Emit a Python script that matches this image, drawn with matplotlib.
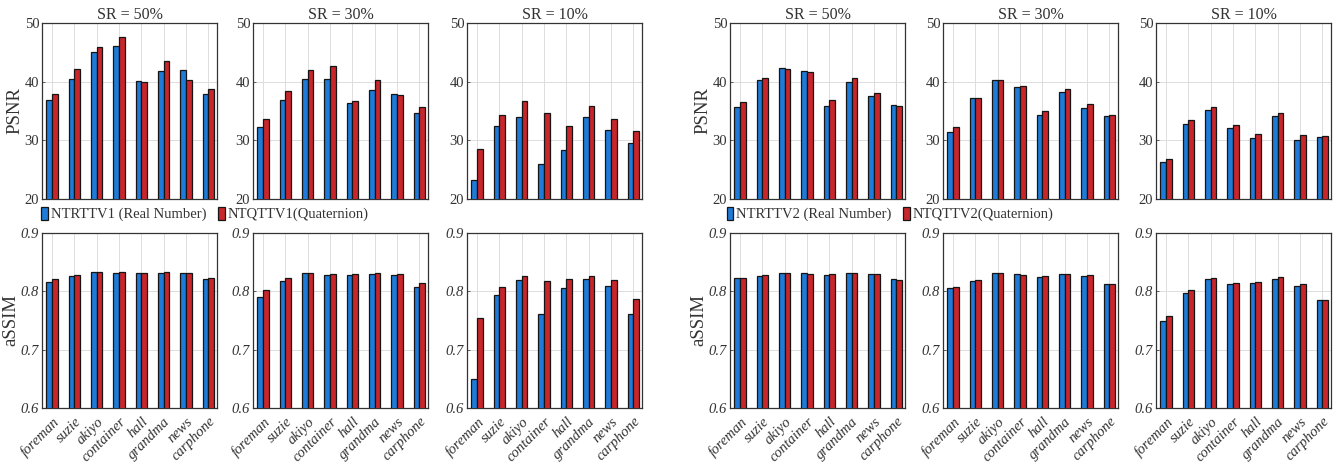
import numpy as np
import matplotlib.pyplot as plt
from matplotlib.patches import Patch

plt.rcParams['font.family'] = ['Liberation Serif', 'DejaVu Serif']

videos = ['foreman', 'suzie', 'akiyo', 'container', 'hall', 'grandma', 'news', 'carphone']
rates = ['SR = 50%', 'SR = 30%', 'SR = 10%']

# PSNR, model 1 (real / quaternion), one row per sampling rate
psnr_r1 = [[36.8, 40.4, 45.0, 46.1, 40.1, 41.9, 42.0, 37.9],
           [32.3, 36.9, 40.5, 40.4, 36.3, 38.5, 37.9, 34.6],
           [23.2, 32.4, 34.0, 25.9, 28.4, 33.9, 31.8, 29.5]]
psnr_q1 = [[37.9, 42.2, 45.9, 47.6, 39.9, 43.6, 40.2, 38.8],
           [33.7, 38.4, 42.0, 42.6, 36.7, 40.2, 37.7, 35.7],
           [28.6, 34.3, 36.7, 34.6, 32.4, 35.9, 33.7, 31.6]]
# PSNR, model 2
psnr_r2 = [[35.7, 40.3, 42.3, 41.8, 35.9, 40.0, 37.5, 36.1],
           [31.5, 37.2, 40.2, 39.1, 34.3, 38.2, 35.5, 34.1],
           [26.3, 32.8, 35.1, 32.1, 30.4, 34.2, 30.1, 30.5]]
psnr_q2 = [[36.6, 40.6, 42.1, 41.6, 36.8, 40.7, 38.0, 35.9],
           [32.2, 37.3, 40.2, 39.3, 35.0, 38.7, 36.2, 34.3],
           [26.8, 33.4, 35.7, 32.6, 31.0, 34.7, 30.9, 30.7]]

# aSSIM, model 1
ssim_r1 = [[0.816, 0.826, 0.834, 0.832, 0.832, 0.832, 0.832, 0.821],
           [0.791, 0.818, 0.832, 0.828, 0.828, 0.830, 0.828, 0.807],
           [0.650, 0.794, 0.819, 0.761, 0.805, 0.821, 0.810, 0.762]]
ssim_q1 = [[0.821, 0.828, 0.834, 0.834, 0.832, 0.834, 0.832, 0.823],
           [0.803, 0.823, 0.832, 0.830, 0.830, 0.832, 0.830, 0.814],
           [0.754, 0.807, 0.826, 0.818, 0.821, 0.826, 0.819, 0.787]]
# aSSIM, model 2
ssim_r2 = [[0.823, 0.826, 0.832, 0.832, 0.828, 0.832, 0.830, 0.821],
           [0.805, 0.818, 0.832, 0.830, 0.825, 0.830, 0.826, 0.812],
           [0.750, 0.798, 0.821, 0.812, 0.814, 0.821, 0.809, 0.786]]
ssim_q2 = [[0.823, 0.828, 0.832, 0.830, 0.830, 0.832, 0.830, 0.819],
           [0.807, 0.819, 0.832, 0.828, 0.826, 0.830, 0.828, 0.812],
           [0.757, 0.802, 0.823, 0.814, 0.816, 0.825, 0.812, 0.786]]

labels1 = ['NTRTTV1 (Real Number)', 'NTQTTV1(Quaternion)']
labels2 = ['NTRTTV2 (Real Number)', 'NTQTTV2(Quaternion)']

blue = '#1f7ad8'
red = '#c8262b'
edge = '#151515'
txt = '#333333'

W, H = 1339, 467
fig = plt.figure(figsize=(W / 100, H / 100), dpi=100)

lefts = [42, 253, 467, 730, 943, 1156]
aw = 175
top_row = (23, 199)
bot_row = (233, 408)

x = np.arange(1, len(videos) + 1)
bw = 0.25


def make_ax(left, rows):
    y0, y1 = rows
    return fig.add_axes([left / W, (H - y1) / H, aw / W, (y1 - y0) / H])


def draw(ax, real, quat, ylim, yticks, italic, bottom):
    ax.bar(x - bw / 2, real, bw, color=blue, edgecolor=edge, linewidth=0.9, zorder=3)
    ax.bar(x + bw / 2, quat, bw, color=red, edgecolor=edge, linewidth=0.9, zorder=3)
    ax.set_xlim(0.55, 8.39)
    ax.set_ylim(*ylim)
    ax.set_yticks(yticks)
    ax.set_xticks(x)
    ax.grid(True, color='#dddddd', linewidth=0.7, zorder=0)
    ax.set_axisbelow(True)
    ax.tick_params(direction='in', length=2.5, width=0.6, colors='#444444',
                   labelcolor=txt, labelsize=10.5, pad=2)
    if italic:
        ax.set_yticklabels([f'{t:.1f}' for t in yticks], style='italic')
    else:
        ax.set_yticklabels([str(t) for t in yticks])
    if bottom:
        ax.set_xticklabels(videos, rotation=45, ha='right', rotation_mode='anchor',
                           style='italic', fontsize=10.5)
        ax.tick_params(axis='x', pad=5)
    else:
        ax.set_xticklabels([])
    for s in ax.spines.values():
        s.set_color('#333333')
        s.set_linewidth(0.9)


groups = [(lefts[:3], psnr_r1, psnr_q1, ssim_r1, ssim_q1),
          (lefts[3:], psnr_r2, psnr_q2, ssim_r2, ssim_q2)]

for g, (ls, pr, pq, sr, sq) in enumerate(groups):
    for k in range(3):
        ax = make_ax(ls[k], top_row)
        draw(ax, pr[k], pq[k], (20, 50), [20, 30, 40, 50], False, False)
        ax.set_title(rates[k], fontsize=11.5, color=txt, pad=3)
        if k == 0:
            ax.set_ylabel('PSNR', fontsize=13.5, color=txt, labelpad=1)
        ax = make_ax(ls[k], bot_row)
        draw(ax, sr[k], sq[k], (0.6, 0.9), [0.6, 0.7, 0.8, 0.9], True, True)
        if k == 0:
            ax.set_ylabel('aSSIM', fontsize=13.5, color=txt, labelpad=1)

handles = [Patch(facecolor=blue, edgecolor=edge, linewidth=0.9),
           Patch(facecolor=red, edgecolor=edge, linewidth=0.9)]
for labs, cx in [(labels1, 205), (labels2, 890)]:
    fig.legend(handles, labs, loc='center', bbox_to_anchor=(cx / W, (H - 214) / H),
               ncol=2, frameon=False, fontsize=10.5, handlelength=0.45, handleheight=1.0,
               handletextpad=0.2, columnspacing=0.8, labelcolor=txt)

fig.savefig('out.png', dpi=100)
